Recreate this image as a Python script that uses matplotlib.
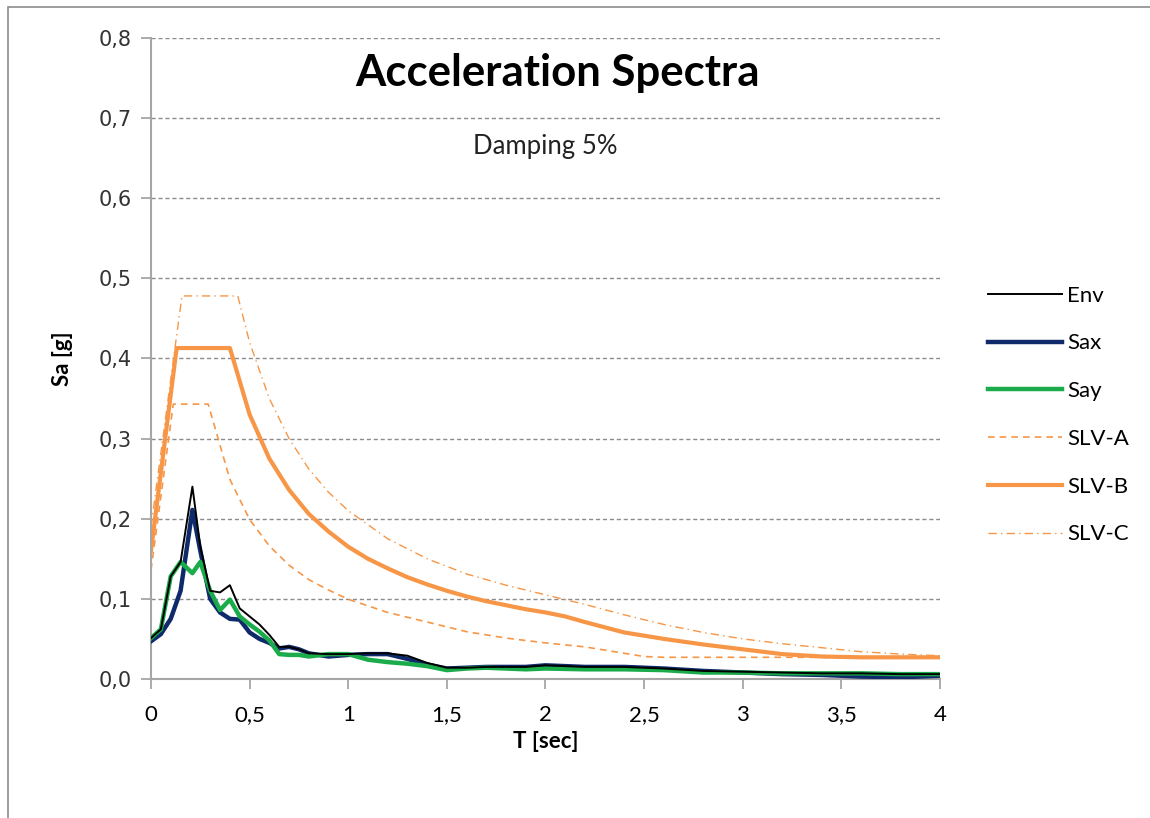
import matplotlib
matplotlib.use("Agg")
import matplotlib.pyplot as plt
from matplotlib.patches import Rectangle
from matplotlib.ticker import FuncFormatter

# --- record spectra (common period grid) ---
T_rec = [0.00, 0.05, 0.10, 0.15, 0.21, 0.25, 0.30, 0.35, 0.40, 0.45,
         0.50, 0.55, 0.60, 0.65, 0.70, 0.75, 0.80, 0.90, 1.00, 1.10,
         1.20, 1.30, 1.40, 1.50, 1.60, 1.70, 1.80, 1.90, 2.00, 2.20,
         2.40, 2.60, 2.80, 3.00, 3.20, 3.40, 3.60, 3.80, 4.00]

env = [0.051, 0.062, 0.128, 0.146, 0.240, 0.165, 0.110, 0.108, 0.117, 0.088,
       0.078, 0.068, 0.055, 0.040, 0.040, 0.037, 0.032, 0.031, 0.031, 0.032,
       0.032, 0.029, 0.020, 0.014, 0.014, 0.015, 0.015, 0.015, 0.017, 0.015,
       0.015, 0.013, 0.010, 0.009, 0.008, 0.007, 0.007, 0.006, 0.006]

sax = [0.047, 0.056, 0.075, 0.110, 0.211, 0.160, 0.100, 0.083, 0.075, 0.074,
       0.058, 0.050, 0.045, 0.038, 0.040, 0.037, 0.032, 0.028, 0.030, 0.031,
       0.031, 0.025, 0.018, 0.013, 0.014, 0.015, 0.015, 0.015, 0.017, 0.015,
       0.015, 0.013, 0.010, 0.008, 0.006, 0.005, 0.003, 0.002, 0.004]

say = [0.051, 0.062, 0.128, 0.146, 0.132, 0.146, 0.110, 0.086, 0.099, 0.078,
       0.068, 0.059, 0.048, 0.031, 0.030, 0.030, 0.028, 0.031, 0.031, 0.024,
       0.021, 0.019, 0.016, 0.011, 0.013, 0.014, 0.013, 0.012, 0.013, 0.012,
       0.012, 0.011, 0.008, 0.008, 0.007, 0.007, 0.007, 0.006, 0.006]

# --- code spectra ---
T_a = [0.0, 0.113, 0.29, 0.4, 0.5, 0.6, 0.7, 0.8, 0.9, 1.0, 1.2, 1.4,
       1.6, 1.8, 2.0, 2.2, 2.4, 2.5, 2.6, 3.0, 3.5, 4.0]
slv_a = [0.136, 0.343, 0.343, 0.249, 0.199, 0.166, 0.142, 0.124, 0.111, 0.0995, 0.083, 0.071,
         0.059, 0.051, 0.045, 0.040, 0.032, 0.028, 0.027, 0.027, 0.027, 0.027]

T_b = [0.0, 0.13, 0.40, 0.5, 0.6, 0.7, 0.8, 0.9, 1.0, 1.1, 1.2, 1.3, 1.4, 1.5,
       1.6, 1.7, 1.8, 1.9, 2.0, 2.1, 2.2, 2.4, 2.6, 2.8, 3.0, 3.2, 3.4, 3.6, 3.8, 4.0]
slv_b = [0.160, 0.413, 0.413, 0.330, 0.275, 0.236, 0.206, 0.184, 0.165, 0.150, 0.138, 0.127, 0.118, 0.110,
         0.103, 0.097, 0.092, 0.087, 0.083, 0.078, 0.071, 0.058, 0.050, 0.043, 0.037, 0.031, 0.028, 0.027, 0.027, 0.027]

T_c = [0.0, 0.157, 0.44, 0.5, 0.6, 0.7, 0.8, 0.9, 1.0, 1.2, 1.4, 1.6, 1.8, 2.0,
       2.2, 2.4, 2.6, 2.8, 3.0, 3.2, 3.4, 3.6, 3.8, 4.0]
slv_c = [0.190, 0.478, 0.478, 0.420, 0.350, 0.300, 0.262, 0.233, 0.210, 0.175, 0.150, 0.131, 0.117, 0.105,
         0.093, 0.080, 0.068, 0.058, 0.050, 0.044, 0.039, 0.034, 0.031, 0.029]

x_ticks = [0, 0.5, 1, 1.5, 2, 2.5, 3, 3.5, 4]
y_ticks = [0.0, 0.1, 0.2, 0.3, 0.4, 0.5, 0.6, 0.7, 0.8]

orange = '#f79646'
navy = '#0f2a6b'
green = '#1aab4a'

fig = plt.figure(figsize=(11.5, 8.18), dpi=100)
ax = fig.add_axes([0.1313, 0.170, 0.686, 0.7836])

# outer chart frame (only left and top visible in the crop)
fig.patches.append(Rectangle((0.007, -0.1), 1.2, 1.091, transform=fig.transFigure,
                             fill=False, edgecolor='#8c8c8c', linewidth=1.2))

ax.plot(T_rec, env, color='black', lw=1.4, label='Env', zorder=5)
ax.plot(T_rec, sax, color=navy, lw=3.2, label='Sax', zorder=3)
ax.plot(T_rec, say, color=green, lw=3.2, label='Say', zorder=4)
ax.plot(T_a, slv_a, color=orange, lw=1.2, ls=(0, (4, 3)), label='SLV-A', zorder=2)
ax.plot(T_b, slv_b, color=orange, lw=3.0, label='SLV-B', zorder=2)
ax.plot(T_c, slv_c, color=orange, lw=1.0, ls=(0, (6, 3, 1, 3)), label='SLV-C', zorder=2)

ax.set_xlim(0, 4)
ax.set_ylim(0, 0.8)
ax.set_xticks(x_ticks)
ax.set_yticks(y_ticks)
ax.xaxis.set_major_formatter(FuncFormatter(lambda v, p: ('%g' % v).replace('.', ',')))
ax.yaxis.set_major_formatter(FuncFormatter(lambda v, p: ('%.1f' % v).replace('.', ',')))

for s in ['top', 'right']:
    ax.spines[s].set_visible(False)
for s in ['left', 'bottom']:
    ax.spines[s].set_color('#a6a6a6')
    ax.spines[s].set_linewidth(1.5)

ax.yaxis.grid(True, color='#8c8c8c', ls=(0, (3, 2)), lw=1.0)
ax.set_axisbelow(True)
ax.tick_params(axis='both', direction='out', length=7, color='#a6a6a6', width=1.3)
ax.tick_params(axis='y', labelsize=15, pad=7)
ax.tick_params(axis='x', labelsize=16, pad=12)
for lab in ax.get_xticklabels():
    lab.set_family('Lato')
for lab in ax.get_yticklabels():
    lab.set_family('DejaVu Sans')
    lab.set_color('#333333')

ax.set_xlabel('T [sec]', fontsize=16, fontweight='bold', family='Lato', labelpad=4)
ax.set_ylabel('Sa [g]', fontsize=16, fontweight='bold', family='Lato', labelpad=18)

ax.text(0.515, 0.945, 'Acceleration Spectra', transform=ax.transAxes, ha='center', va='center',
        fontsize=31.5, fontweight='bold', family='Lato')
ax.text(0.5, 0.83, 'Damping 5%', transform=ax.transAxes, ha='center', va='center',
        fontsize=18.5, family='Lato', color='#222222')

leg = ax.legend(loc='upper left', bbox_to_anchor=(1.036, 0.645), frameon=False,
                prop={'family': 'Lato', 'size': 16}, handlelength=3.3, handletextpad=0.25,
                labelspacing=1.25)

fig.savefig('out.png', dpi=100, facecolor='white')
